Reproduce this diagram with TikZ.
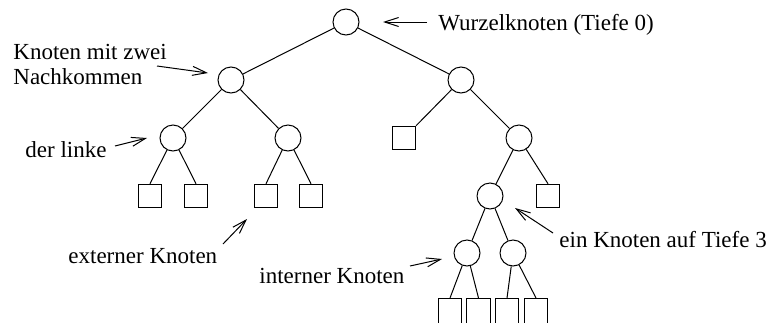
\documentclass[tikz,border=0pt]{standalone}
\usepackage{fontspec}
\setmainfont{Liberation Serif}
\usetikzlibrary{arrows.meta}
\begin{document}
\begin{tikzpicture}[x=0.5pt,y=-0.5pt,
  inode/.style={draw,circle,line width=0.5pt,minimum size=13pt,inner sep=0pt},
  enode/.style={draw,rectangle,line width=0.5pt,minimum size=11.75pt,inner sep=0pt},
  edge/.style={line width=0.5pt},
  note/.style={font=\fontsize{11.5}{12.5}\selectfont,inner sep=0pt,anchor=base west,align=left},
  pointer/.style={line width=0.5pt,-{Straight Barb[length=7pt,width=4.5pt,line width=0.5pt]}}]
\clip (0,0) rectangle (769,322);
\useasboundingbox (0,0) rectangle (769,322);
% internal nodes
\node[inode] (r) at (346,22) {};
\node[inode] (a) at (231,80) {};
\node[inode] (b) at (461,80) {};
\node[inode] (aa) at (173,138) {};
\node[inode] (ab) at (288,138) {};
\node[enode] (ba) at (404,138) {};
\node[inode] (bb) at (519,138) {};
\node[enode] (aaa) at (150,196) {};
\node[enode] (aab) at (196,196) {};
\node[enode] (aba) at (266,196) {};
\node[enode] (abb) at (311,196) {};
\node[inode] (bba) at (490,196) {};
\node[enode] (bbb) at (548,196) {};
\node[inode] (bbaa) at (467,253) {};
\node[inode] (bbab) at (513,253) {};
\node[enode, minimum height=14pt, anchor=north] (x1) at (450,298) {};
\node[enode, minimum height=14pt, anchor=north] (x2) at (478.5,298) {};
\node[enode, minimum height=14pt, anchor=north] (x3) at (507,298) {};
\node[enode, minimum height=14pt, anchor=north] (x4) at (536,298) {};
% edges
\draw[edge] (r) -- (a);
\draw[edge] (r) -- (b);
\draw[edge] (a) -- (aa);
\draw[edge] (a) -- (ab);
\draw[edge] (b) -- (ba);
\draw[edge] (b) -- (bb);
\draw[edge] (aa) -- (aaa.north);
\draw[edge] (aa) -- (aab.north);
\draw[edge] (ab) -- (aba.north);
\draw[edge] (ab) -- (abb.north);
\draw[edge] (bb) -- (bba);
\draw[edge] (bb) -- (bbb.north);
\draw[edge] (bba) -- (bbaa);
\draw[edge] (bba) -- (bbab);
\draw[edge] (bbaa) -- (x1.north);
\draw[edge] (bbaa) -- (x2.north);
\draw[edge] (bbab) -- (x3.north);
\draw[edge] (bbab) -- (x4.north);
% labels
\node[note] (t1) at (438,30) {Wurzelknoten (Tiefe 0)};
\node[note] (t2) at (13,84) {Knoten mit zwei\\Nachkommen};
\node[note] (t3) at (25,157) {der linke};
\node[note] (t4) at (68,263) {externer Knoten};
\node[note] (t5) at (259,283) {interner Knoten};
\node[note] (t6) at (559,247) {ein Knoten auf Tiefe 3};
% pointer ends
\coordinate (p1s) at (427,22); \coordinate (p1e) at (383,22);
\coordinate (p2s) at (157,66); \coordinate (p2e) at (208,73);
\coordinate (p3s) at (115,146); \coordinate (p3e) at (147,138);
\coordinate (p4s) at (223,244); \coordinate (p4e) at (247,219);
\coordinate (p5s) at (410,266); \coordinate (p5e) at (442,259);
\coordinate (p6s) at (553,233); \coordinate (p6e) at (515,208);
\draw[pointer] (p1s) -- (p1e);
\draw[pointer] (p2s) -- (p2e);
\draw[pointer] (p3s) -- (p3e);
\draw[pointer] (p4s) -- (p4e);
\draw[pointer] (p5s) -- (p5e);
\draw[pointer] (p6s) -- (p6e);
\end{tikzpicture}
\end{document}
